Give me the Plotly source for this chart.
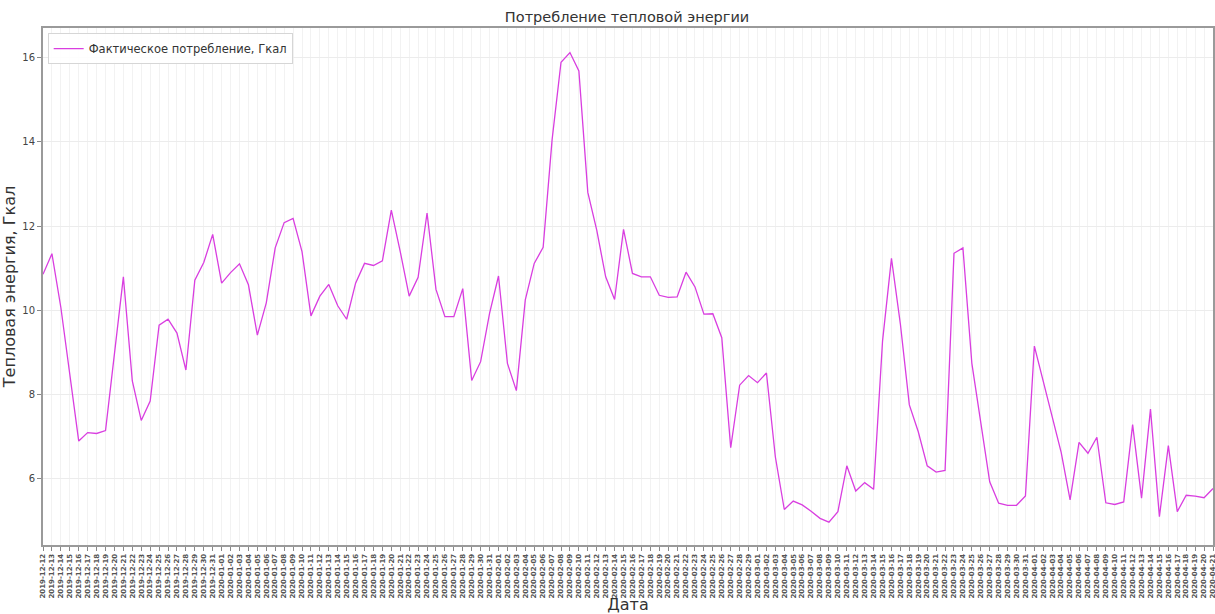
import pandas as pd
import plotly.graph_objects as go

start_date = "2019-12-12"
end_date = "2020-04-21"
dates = [d.strftime("%Y-%m-%d") for d in pd.date_range(start_date, end_date, freq="D")]

consumption = [
    10.85, 11.34, 10.06, 8.50, 6.88, 7.08, 7.06, 7.13, 8.90, 10.79,
    8.31, 7.37, 7.83, 9.64, 9.78, 9.45, 8.57, 10.71, 11.13, 11.80,
    10.64, 10.89, 11.10, 10.60, 9.40, 10.17, 11.48, 12.08, 12.18, 11.39,
    9.86, 10.33, 10.61, 10.10, 9.78, 10.64, 11.11, 11.06, 11.17, 12.38,
    11.39, 10.33, 10.78, 12.31, 10.49, 9.84, 9.84, 10.51, 8.32, 8.77,
    9.92, 10.81, 8.73, 8.08, 10.24, 11.11, 11.49, 14.05, 15.90, 16.13,
    15.69, 12.80, 11.90, 10.79, 10.25, 11.92, 10.87, 10.79, 10.79, 10.35,
    10.30, 10.31, 10.90, 10.55, 9.90, 9.91, 9.34, 6.72, 8.21, 8.44,
    8.27, 8.50, 6.50, 5.25, 5.45, 5.36, 5.21, 5.04, 4.95, 5.20,
    6.29, 5.69, 5.89, 5.73, 9.26, 11.23, 9.66, 7.74, 7.10, 6.29,
    6.14, 6.18, 11.35, 11.48, 8.73, 7.32, 5.91, 5.40, 5.35, 5.35,
    5.57, 9.14, 8.29, 7.45, 6.61, 5.48, 6.85, 6.59, 6.97, 5.41,
    5.37, 5.43, 7.27, 5.52, 7.64, 5.08, 6.77, 5.20, 5.59, 5.57,
    5.53, 5.75,
]

y_ticks = [6, 8, 10, 12, 14, 16]

title_text = "Потребление тепловой энергии"
series_name = "Фактическое потребление, Гкал"
x_title = "Дата"
y_title = "Тепловая энергия, Гкал"

font_family = "DejaVu Sans"

fig = go.Figure()
fig.add_trace(go.Scatter(
    x=dates, y=consumption, mode="lines", name=series_name,
    line=dict(color="#d93ee0", width=1.3),
))

fig.update_layout(
    width=1215, height=614,
    margin=dict(l=43, r=2, t=28, b=69),
    paper_bgcolor="white", plot_bgcolor="white",
    font=dict(family=font_family, color="#333333"),
    title=dict(text=title_text, x=0.5161, xanchor="center", y=0.972, yanchor="middle",
               font=dict(size=14.5, color="#333333", family=font_family)),
    showlegend=True,
    legend=dict(x=0.004, y=0.99, xanchor="left", yanchor="top",
                bgcolor="rgba(255,255,255,0.9)", bordercolor="#d6d6d6", borderwidth=1,
                font=dict(size=11.5, color="#333333", family=font_family),
                itemwidth=30, tracegroupgap=0),
)

fig.update_xaxes(
    type="category", categoryorder="array", categoryarray=dates,
    range=[0, len(dates) - 1],
    tickmode="array", tickvals=dates, ticktext=dates,
    tickangle=-90, tickfont=dict(size=7, color="#555555", family=font_family, weight="bold"),
    ticks="outside", ticklen=4, tickcolor="#888888", tickwidth=1,
    showgrid=True, gridcolor="#f2f2f2", gridwidth=1,
    showline=True, linecolor="#9a9a9a", linewidth=2, mirror=True,
    title=dict(text=x_title, font=dict(size=16, color="#333333", family=font_family), standoff=8),
    automargin=False, zeroline=False,
)

fig.update_yaxes(
    range=[4.405, 16.714],
    tickmode="array", tickvals=y_ticks, ticktext=[str(t) for t in y_ticks],
    tickfont=dict(size=10, color="#444444", family=font_family),
    ticks="outside", ticklen=4, tickcolor="#888888", tickwidth=1,
    showgrid=True, gridcolor="#ececec", gridwidth=1,
    showline=True, linecolor="#9a9a9a", linewidth=2, mirror=True,
    title=dict(text=y_title, font=dict(size=16, color="#333333", family=font_family), standoff=4),
    automargin=False, zeroline=False,
)

fig.write_html(
    "out.html",
    config={"displayModeBar": False, "responsive": False},
    post_script="document.body.style.margin='0';document.body.style.overflow='hidden';",
)
